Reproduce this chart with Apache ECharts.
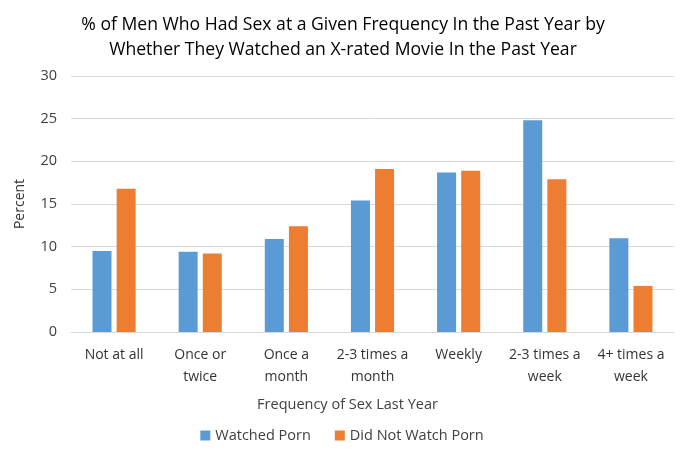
<!DOCTYPE html>
<html><head><meta charset="utf-8">
<script src="https://cdn.jsdelivr.net/npm/echarts@6/dist/echarts.min.js"></script>
<style>html,body{margin:0;padding:0;background:#fff}#c{width:684px;height:456px}</style>
</head><body><div id="c"></div>
<script>
const categories = ['Not at all', 'Once or\ntwice', 'Once a\nmonth', '2-3 times a\nmonth', 'Weekly', '2-3 times a\nweek', '4+ times a\nweek'];
const watched = [9.5, 9.4, 10.9, 15.4, 18.7, 24.8, 11.0];
const notWatched = [16.8, 9.2, 12.4, 19.1, 18.9, 17.9, 5.4];
const yTicks = [0, 5, 10, 15, 20, 25, 30];

const font = "'Open Sans', 'Noto Sans', sans-serif";
const chart = echarts.init(document.getElementById('c'), null, {renderer: 'canvas'});
chart.setOption({
  animation: false,
  textStyle: {fontFamily: font},
  title: {
    text: '% of Men Who Had Sex at a Given Frequency In the Past Year by\nWhether They Watched an X-rated Movie In the Past Year',
    left: 338, top: 7, textAlign: 'center',
    textStyle: {fontFamily: font, fontSize: 17.6, fontWeight: 'normal', color: '#000', lineHeight: 25}
  },
  grid: {left: 71, right: 10, top: 76, bottom: 124, containLabel: false},
  legend: {
    bottom: 8, left: 'center', itemWidth: 10, itemHeight: 10, itemGap: 24,
    icon: 'rect',
    textStyle: {fontFamily: font, fontSize: 14.5, color: '#404040'},
    data: ['Watched Porn', 'Did Not Watch Porn']
  },
  xAxis: {
    type: 'category', data: categories,
    name: 'Frequency of Sex Last Year', nameLocation: 'middle', nameGap: 65,
    nameTextStyle: {fontFamily: font, fontSize: 14.5, color: '#404040', padding: [0, 50, 0, 0]},
    axisLine: {lineStyle: {color: '#d9d9d9'}},
    axisTick: {show: false},
    axisLabel: {interval: 0, fontFamily: font, fontSize: 14, color: '#333', lineHeight: 22, margin: 12}
  },
  yAxis: {
    type: 'value', min: yTicks[0], max: yTicks[yTicks.length - 1], interval: 5,
    name: 'Percent', nameLocation: 'middle', nameGap: 44, nameRotate: 90,
    nameTextStyle: {fontFamily: font, fontSize: 14, color: '#333'},
    axisLine: {show: false}, axisTick: {show: false},
    axisLabel: {fontFamily: font, fontSize: 14.5, color: '#404040', margin: 14},
    splitLine: {lineStyle: {color: '#d9d9d9'}}
  },
  series: [
    {name: 'Watched Porn', type: 'bar', data: watched, barWidth: 19, barGap: '27%', itemStyle: {color: '#5b9bd5'}},
    {name: 'Did Not Watch Porn', type: 'bar', data: notWatched, barWidth: 19, itemStyle: {color: '#ed7d31'}}
  ]
});
</script></body></html>
